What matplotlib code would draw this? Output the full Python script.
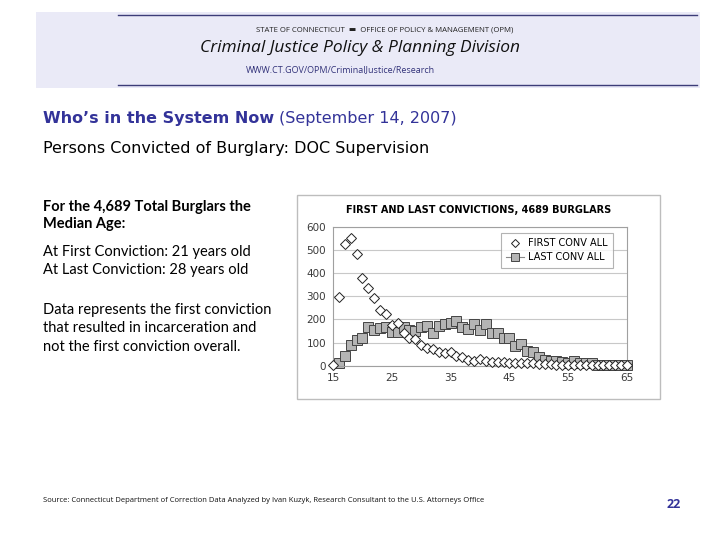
import matplotlib
matplotlib.use("Agg")
import matplotlib.pyplot as plt
from matplotlib.patches import Rectangle
from matplotlib.lines import Line2D

# ----------------------------
# Data
# ----------------------------
FIRST_AGES = list(range(15, 66))
FIRST_CONV = [5, 295, 524, 550, 483, 380, 337, 291, 240, 222,
              175, 183, 140, 118, 115, 88, 75, 70, 61, 56,
              57, 42, 36, 26, 21, 28, 20, 17, 17, 17,
              13, 13, 12, 10, 10, 8, 8, 6, 5, 5,
              5, 3, 3, 2, 2, 2, 1, 1, 1, 1, 1]

LAST_AGES = list(range(16, 66))
LAST_CONV = [13, 44, 91, 110, 118, 166, 154, 162, 166, 147,
             147, 168, 152, 151, 166, 170, 140, 173, 179, 184,
             194, 165, 160, 178, 154, 178, 142, 142, 121, 121,
             87, 93, 65, 58, 39, 25, 22, 20, 17, 12,
             22, 12, 12, 12, 4, 5, 5, 5, 5, 5]

X_TICKS = [15, 25, 35, 45, 55, 65]
Y_TICKS = [0, 100, 200, 300, 400, 500, 600]

W, H = 720, 540
BLUE = "#333399"
SANS = ["DejaVu Sans"]


def fx(px):
    return px / W


def fy(py):
    return 1 - py / H


fig = plt.figure(figsize=(7.2, 5.4), dpi=100)
fig.patch.set_facecolor("white")

# ----------------------------
# Header band
# ----------------------------
fig.patches.append(Rectangle((fx(36), fy(88)), fx(664), 76 / H,
                             transform=fig.transFigure, facecolor="#eaeaf7",
                             edgecolor="none", zorder=-2))
for yy in (15, 85):
    fig.lines.append(Line2D([fx(118), fx(697)], [fy(yy), fy(yy)],
                            transform=fig.transFigure, color="#3c3c78", lw=1.0))

fig.text(fx(385), fy(30), "STATE OF CONNECTICUT  \u25AC  OFFICE OF POLICY & MANAGEMENT (OPM)",
         ha="center", va="center", fontsize=5.6, family=["Open Sans", "DejaVu Sans"],
         color="#222222")
fig.text(fx(360), fy(48), "Criminal Justice Policy & Planning Division",
         ha="center", va="center", fontsize=12.5, style="italic",
         family="Open Sans", color="#111111")
fig.text(fx(340), fy(70), "WWW.CT.GOV/OPM/CriminalJustice/Research",
         ha="center", va="center", fontsize=6.5, family="Open Sans", color="#33337a")

# ----------------------------
# Slide titles
# ----------------------------
t = fig.text(fx(43), fy(118), "Who\u2019s in the System Now", ha="left", va="center",
             fontsize=11.5, weight="bold", color=BLUE, family=SANS)
fig.canvas.draw()
bb = t.get_window_extent()
fig.text(bb.x1 / W + fx(5), fy(118), "(September 14, 2007)", ha="left", va="center",
         fontsize=11.5, color=BLUE, family=SANS)
fig.text(fx(43), fy(148), "Persons Convicted of Burglary: DOC Supervision",
         ha="left", va="center", fontsize=11.5, color="black", family=SANS)

# left text block
fig.text(fx(43), fy(215.5), "For the 4,689 Total Burglars the\nMedian Age:",
         ha="left", va="center", fontsize=10.5, weight="bold", family="Lato",
         linespacing=1.32)
fig.text(fx(43), fy(261), "At First Conviction: 21 years old\nAt Last Conviction: 28 years old",
         ha="left", va="center", fontsize=10.5, family="Lato", linespacing=1.32)
fig.text(fx(43), fy(328.5), "Data represents the first conviction\nthat resulted in incarceration and\nnot the first conviction overall.",
         ha="left", va="center", fontsize=10.5, family="Lato", linespacing=1.4)

# footer
fig.text(fx(43), fy(500), "Source: Connecticut Department of Correction Data Analyzed by Ivan Kuzyk, Research Consultant to the U.S. Attorneys Office",
         ha="left", va="center", fontsize=5.5, family="Open Sans", color="#111111")
fig.text(fx(674), fy(505), "22", ha="center", va="center", fontsize=9,
         weight="bold", color=BLUE, family="Open Sans")

# ----------------------------
# Chart box
# ----------------------------
fig.patches.append(Rectangle((fx(297), fy(399)), fx(363), 204 / H,
                             transform=fig.transFigure, facecolor="white",
                             edgecolor="#bdbdbd", lw=1.0, zorder=-1))
fig.text(fx(479), fy(210), "FIRST AND LAST CONVICTIONS, 4689 BURGLARS",
         ha="center", va="center", fontsize=7, weight="bold", family=SANS)

ax = fig.add_axes([fx(333), fy(365.7), fx(294), (365.7 - 226.7) / H])
ax.plot(FIRST_AGES, FIRST_CONV, linestyle="none", marker="D", markersize=5,
        markerfacecolor="white", markeredgecolor="#222222", markeredgewidth=0.7,
        label="FIRST CONV ALL", zorder=3, clip_on=False)
ax.plot(LAST_AGES, LAST_CONV, color="#8a8a8a", lw=0.8, marker="s", markersize=6.6,
        markerfacecolor="#b4b4b4", markeredgecolor="#444444", markeredgewidth=0.7,
        label="LAST CONV ALL", zorder=2, clip_on=False)

ax.set_xlim(15, 65)
ax.set_ylim(0, 600)
ax.set_xticks(X_TICKS)
ax.set_yticks(Y_TICKS)
ax.tick_params(labelsize=7.5, length=0, pad=5, colors="#3a3a3a")
for lab in ax.get_xticklabels() + ax.get_yticklabels():
    lab.set_family(SANS)
ax.grid(axis="y", color="#c8c8c8", lw=0.8)
ax.set_axisbelow(True)
for s in ax.spines.values():
    s.set_color("#a0a0a0")
    s.set_linewidth(0.8)

leg = ax.legend(loc="upper right", bbox_to_anchor=(0.968, 0.99),
                frameon=True, fancybox=False, edgecolor="#a0a0a0",
                handlelength=1.8, borderpad=0.55, labelspacing=0.4,
                handletextpad=0.4, markerscale=0.85,
                prop={"family": SANS, "size": 7})
leg.get_frame().set_linewidth(0.8)

fig.savefig("out.png", dpi=100)
